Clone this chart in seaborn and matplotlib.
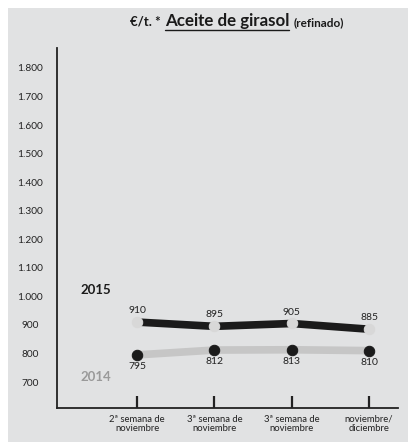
import pandas as pd
import matplotlib
matplotlib.use('Agg')
import matplotlib.pyplot as plt
import seaborn as sns
from matplotlib.patches import Rectangle
from matplotlib.lines import Line2D

# Data
periods = ['2ª semana de\nnoviembre', '3ª semana de\nnoviembre',
           '3ª semana de\nnoviembre', 'noviembre/\ndiciembre']
values_2015 = [910, 895, 905, 885]
values_2014 = [795, 812, 813, 810]
y_ticks = [700, 800, 900, 1000, 1100, 1200, 1300, 1400, 1500, 1600, 1700, 1800]
y_tick_labels = ['700', '800', '900', '1.000', '1.100', '1.200', '1.300',
                 '1.400', '1.500', '1.600', '1.700', '1.800']

df = pd.DataFrame({
    'x': list(range(len(periods))) * 2,
    'value': values_2015 + values_2014,
    'year': ['2015'] * 4 + ['2014'] * 4,
})

sns.set_theme(style='white')
plt.rcParams['font.family'] = ['Lato', 'DejaVu Sans']

bg = '#e1e2e3'
dark = '#1b1b1b'
light = '#c6c6c6'

fig = plt.figure(figsize=(4.08, 4.42), dpi=100, facecolor='white')
fig.patches.append(Rectangle((8 / 408, 0), 1, 1 - 8 / 442, transform=fig.transFigure,
                             facecolor=bg, edgecolor='none', zorder=-10))
ax = fig.add_axes([57 / 408, 1 - 408 / 442, (398 - 57) / 408, (408 - 48) / 442])
ax.set_zorder(5)
ax.set_facecolor('none')

d15 = df[df['year'] == '2015']
d14 = df[df['year'] == '2014']
sns.lineplot(data=d14, x='x', y='value', color=light, linewidth=5.5,
             marker='o', markersize=7.5, markerfacecolor=dark, markeredgecolor=dark,
             ax=ax, zorder=2)
sns.lineplot(data=d15, x='x', y='value', color=dark, linewidth=5.5,
             marker='o', markersize=7.5, markerfacecolor='#d8d8d8', markeredgecolor='#d8d8d8',
             ax=ax, zorder=3)

for i, v in enumerate(values_2015):
    ax.annotate(str(v), (i, v), xytext=(0, 5), textcoords='offset points',
                ha='center', va='bottom', fontsize=7.5, color='#222222')
for i, v in enumerate(values_2014):
    ax.annotate(str(v), (i, v), xytext=(0, -5), textcoords='offset points',
                ha='center', va='top', fontsize=7.5, color='#222222')

ax.text(-0.53, 1022, '2015', fontsize=9.5, fontweight='bold', color=dark,
        ha='center', va='center')
ax.text(-0.53, 717, '2014', fontsize=9.5, fontweight='bold', color='#9a9a9a',
        ha='center', va='center')

ax.set_xlim(-1.035, 3.375)
ax.set_ylim(609, 1870)
ax.set_xticks(range(len(periods)))
ax.set_xticklabels(periods, fontsize=6.8, color='#222222', linespacing=1.0)
ax.set_yticks(y_ticks)
ax.set_yticklabels(y_tick_labels, fontsize=7.3, color='#222222', ha='center')
ax.tick_params(axis='x', length=0, pad=5)
ax.tick_params(axis='y', left=False, length=0, pad=19.5)
ax.set_xlabel('')
ax.set_ylabel('')
ax.grid(False)
for side in ['top', 'right']:
    ax.spines[side].set_visible(False)
for side in ['left', 'bottom']:
    ax.spines[side].set_color('#222222')
    ax.spines[side].set_linewidth(1.3)

fig.canvas.draw()
renderer = fig.canvas.get_renderer()

# short upward tick marks at each category, placed through the axes scale
W, H = fig.bbox.width, fig.bbox.height
for i in range(len(periods)):
    px, py = ax.transData.transform((i, ax.get_ylim()[0]))
    fig.lines.append(Line2D([px / W, px / W], [py / H, (py + 12) / H],
                            transform=fig.transFigure, color='#222222',
                            linewidth=1.6, solid_capstyle='butt', zorder=20))

# Title built from pieces
ty = 1 - 26 / 442
parts = [('€/t. *', 9.5, False, 4), ('Aceite de girasol', 12.2, True, 4),
         ('(refinado)', 8.5, False, 0)]
x = 130 / 408
for txt, size, underline, gap in parts:
    t = fig.text(x, ty, txt, fontsize=size, fontweight='bold', color='#1a1a1a',
                 ha='left', va='baseline')
    bb = t.get_window_extent(renderer)
    if underline:
        fig.lines.append(Line2D([bb.x0 / 408, bb.x1 / 408], [ty - 3.5 / 442, ty - 3.5 / 442],
                                transform=fig.transFigure, color='#1a1a1a', linewidth=1))
    x = (bb.x1 + gap) / 408

fig.savefig('out.png', dpi=100, facecolor='white')
